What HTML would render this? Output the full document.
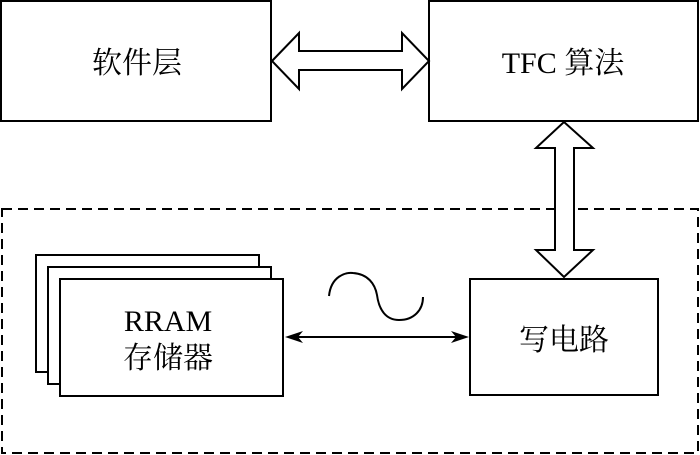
<!DOCTYPE html>
<html><head><meta charset="utf-8"><style>
html,body{margin:0;padding:0;background:#fff;}
svg{display:block;}
text{font-family:"Liberation Serif","Noto Serif CJK SC","Noto Sans CJK SC",serif;fill:#000;}
</style></head><body>
<svg width="700" height="455" viewBox="0 0 700 455" xmlns="http://www.w3.org/2000/svg">
<g fill="#fff" stroke="#000" stroke-width="2">
<rect x="1" y="1" width="270" height="120"/>
<rect x="429" y="1" width="269" height="120"/>
<!-- horizontal double arrow -->
<polygon points="272,61 299,33 299,51 402,51 402,33 429,61 402,89 402,70 299,70 299,89"/>
</g>
<!-- dashed container -->
<rect x="2" y="209" width="696" height="244" fill="none" stroke="#000" stroke-width="2" stroke-dasharray="10,6"/>
<g fill="#fff" stroke="#000" stroke-width="2">
<!-- vertical double arrow -->
<polygon points="564,122 593,148 574,148 574,250 593,250 564,277 536,250 555,250 555,148 536,148"/>
<rect x="36" y="255" width="223" height="117"/>
<rect x="48" y="267" width="223" height="117"/>
<rect x="60" y="279" width="223" height="117"/>
<rect x="470" y="279" width="188" height="116"/>
</g>
<!-- connector -->
<line x1="288" y1="337" x2="466" y2="337" stroke="#000" stroke-width="2"/>
<polygon points="285,337 303,331 298,337 303,343" fill="#000"/>
<polygon points="469,337 451,331 456,337 451,343" fill="#000"/>
<!-- sine -->
<path d="M329,296 C331,276 346,272 353,273 C368,274 375,284 377,295 C379,310 386,320 399,320 C414,320 423,310 423,297" fill="none" stroke="#000" stroke-width="2"/>
<text x="137" y="73" font-size="30" text-anchor="middle">软件层</text>
<text x="563" y="73" font-size="30" text-anchor="middle">TFC 算法</text>
<text x="168" y="331" font-size="30" text-anchor="middle">RRAM</text>
<text x="168" y="368" font-size="30" text-anchor="middle">存储器</text>
<text x="564" y="350" font-size="30" text-anchor="middle">写电路</text>
</g>
</svg>
</body></html>
